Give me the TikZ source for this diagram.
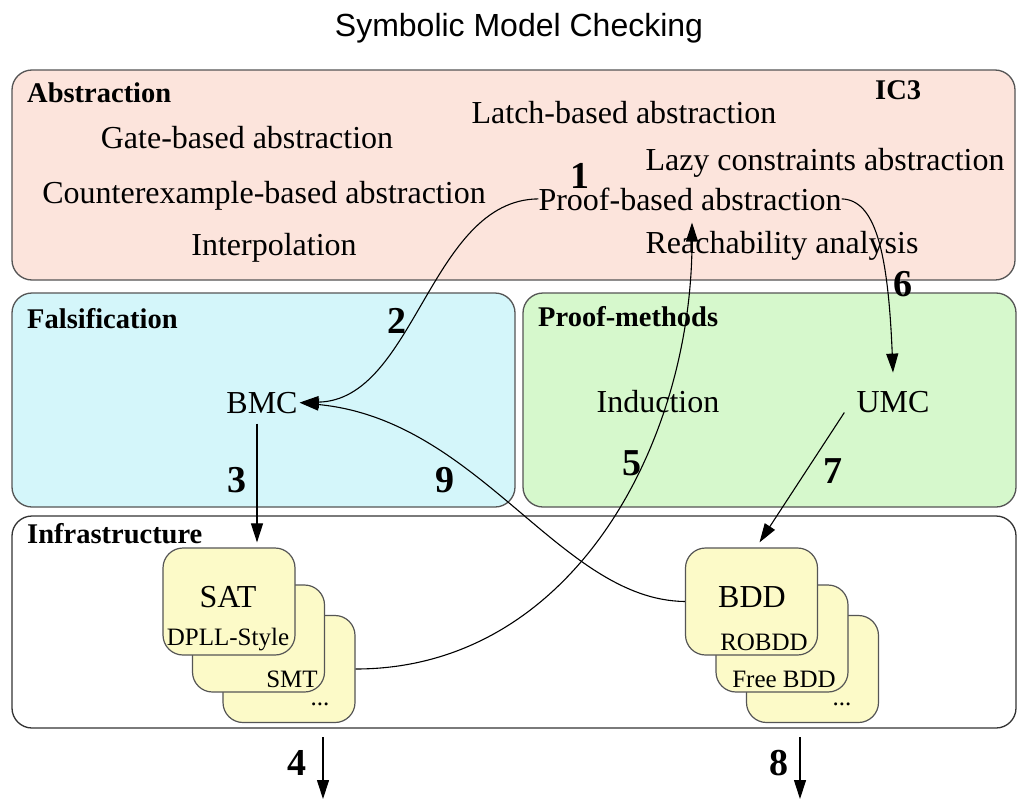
\documentclass[tikz,border=0pt]{standalone}
\usepackage{fontspec}
\setmainfont{Liberation Serif}
\newfontfamily\titlefont{Liberation Sans}
\usetikzlibrary{arrows.meta}

\definecolor{abspink}{RGB}{252,228,220}
\definecolor{falscyan}{RGB}{212,246,250}
\definecolor{proofgreen}{RGB}{214,248,204}
\definecolor{cardyellow}{RGB}{252,250,200}
\definecolor{edgegray}{RGB}{85,85,85}

\tikzset{
  region/.style={draw=edgegray, line width=1.3pt, rounded corners=20pt},
  card/.style={draw=edgegray, line width=1.2pt, fill=cardyellow, rounded corners=20pt,
               minimum width=132pt, minimum height=107pt, inner sep=0pt},
  heading/.style={anchor=base west, inner sep=0pt, font=\fontsize{28.5}{31}\selectfont\bfseries},
  item/.style={anchor=base, inner sep=0pt, font=\fontsize{32}{36}\selectfont},
  sub/.style={anchor=base, inner sep=0pt, font=\fontsize{25}{28}\selectfont},
  num/.style={anchor=base, inner sep=0pt, font=\fontsize{38}{42}\selectfont\bfseries},
  link/.style={line width=1.1pt, -{Triangle[length=19pt,width=12pt]}},
}

\begin{document}
\begin{tikzpicture}[x=1pt,y=-1pt]
  \fill[white] (0,0) rectangle (1019,800);
  \useasboundingbox (0,0) rectangle (1019,800);

  % title
  \node[anchor=base, inner sep=0pt, font=\titlefont\fontsize{32}{36}\selectfont] (title) at (519,37) {Symbolic Model Checking};

  % layers
  \draw[region, fill=abspink]    (12,70)  rectangle (1015,280);
  \draw[region, fill=falscyan]   (12,293) rectangle (515,507);
  \draw[region, fill=proofgreen] (523,293) rectangle (1016,507);
  \draw[region, draw=black!80, fill=white] (12,516) rectangle (1016,728);

  % abstraction layer
  \node[heading] (habs) at (27,102) {Abstraction};
  \node[heading] (ic3) at (875,99) {IC3};
  \node[item] (gate)  at (247,148) {Gate-based abstraction};
  \node[item] (cex)   at (264,203) {Counterexample-based abstraction};
  \node[item] (itp)   at (274,255) {Interpolation};
  \node[item] (latch) at (624,123) {Latch-based abstraction};
  \node[item] (lazy)  at (825,170) {Lazy constraints abstraction};
  \node[item] (pba)   at (690,210) {Proof-based abstraction};
  \node[item] (reach) at (782,253) {Reachability analysis};

  % falsification layer
  \node[heading] (hfal) at (27,328) {Falsification};
  \node[item] (bmc) at (262,413) {BMC};

  % proof-methods layer
  \node[heading] (hprf) at (538,326) {Proof-methods};
  \node[item] (ind) at (658,412) {Induction};
  \node[item] (umc) at (893,412) {UMC};

  % infrastructure layer
  \node[heading] (hinf) at (27,543) {Infrastructure};

  % SAT stack
  \node[card] (sat3) at (289,669) {};
  \node[card] (sat2) at (258.5,638.5) {};
  \node[card] (sat1) at (229,601.5) {};
  \node[item] (sat)  at (228,607) {SAT};
  \node[sub]  (dpll) at (228,645) {DPLL-Style};
  \node[sub]  (smt)  at (292,687) {SMT};
  \node[sub]  (satm) at (320,705) {...};

  % BDD stack
  \node[card] (bdd3) at (812.5,669) {};
  \node[card] (bdd2) at (782,638.5) {};
  \node[card] (bdd1) at (751.5,601.5) {};
  \node[item] (bdd)  at (752,607) {BDD};
  \node[sub]  (robdd) at (764,650) {ROBDD};
  \node[sub]  (free) at (784,687) {Free BDD};
  \node[sub]  (bddm) at (842,705) {...};

  % free ends of the outgoing arrows
  \coordinate (o4s) at (323,737);
  \coordinate (o4e) at (323,799);
  \coordinate (o8s) at (800,737);
  \coordinate (o8e) at (800,799);

  % connectors
  \draw[link, shorten >=2pt] (pba.west) .. controls (430,200) and (415,400) .. (bmc.east);
  \draw[link] ([xshift=-5pt,yshift=-10pt]bmc.south) -- ([xshift=28pt,yshift=5pt]sat1.north);
  \draw[link] (o4s) -- (o4e);
  \draw[link] (sat3.east) to[out=0,in=-90] ([xshift=2pt,yshift=-12pt]pba.south);
  \draw[link] (pba.east) .. controls (875,200) and (888,250) .. ([yshift=18pt]umc.north);
  \draw[link] ([xshift=-12pt]umc.south west) -- ([xshift=8pt,yshift=5pt]bdd1.north);
  \draw[link] (o8s) -- (o8e);
  \draw[link, shorten >=2pt] (bdd1.west) .. controls (560,600) and (480,420) .. (bmc.east);

  % step numbers
  \node[num] (n1) at (580,188) {1};
  \node[num] (n2) at (397,333) {2};
  \node[num] (n3) at (237,492) {3};
  \node[num] (n4) at (297,775) {4};
  \node[num] (n5) at (632,475) {5};
  \node[num] (n6) at (903,296) {6};
  \node[num] (n7) at (833,483) {7};
  \node[num] (n8) at (779,775) {8};
  \node[num] (n9) at (445,492) {9};
\end{tikzpicture}
\end{document}
